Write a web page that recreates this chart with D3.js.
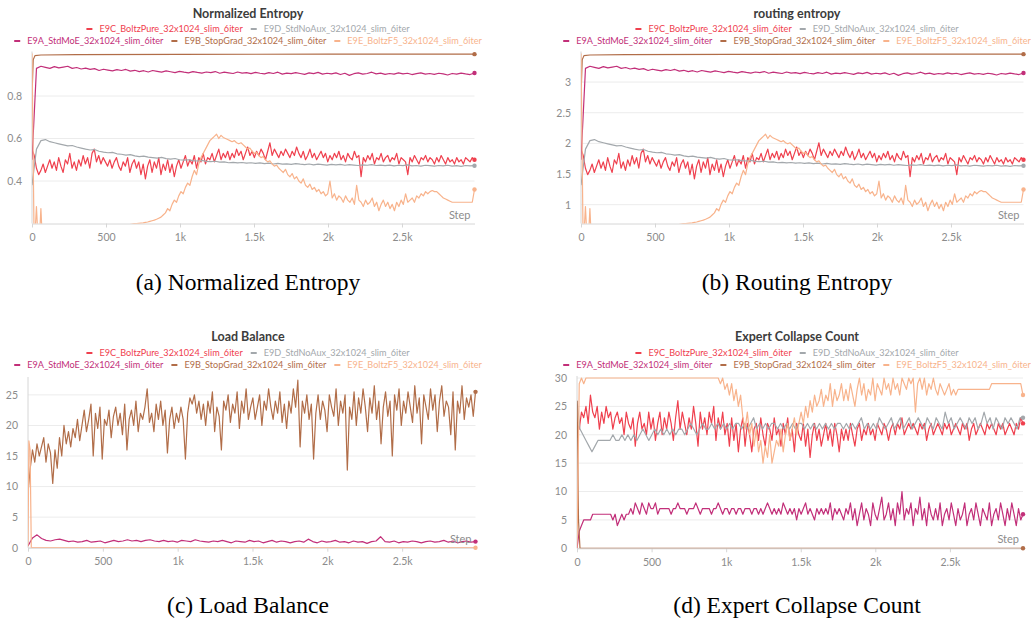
<!DOCTYPE html>
<html>
<head>
<meta charset="utf-8">
<script src="https://cdn.jsdelivr.net/npm/d3@7"></script>
<style>
  body { margin: 0; background: #fff; }
  svg { display: block; font-family: Lato, "Noto Sans", sans-serif; }
  .grid line { stroke: #ececec; stroke-width: 1; }
  .axis path, .axis line { stroke: #d6d6d6; }
  .axis text { fill: #8c8c8c; font-size: 10.5px; font-family: Lato, sans-serif; }
  .step-label { fill: #8c8c8c; font-size: 11px; }
  .panel-title { fill: #3c3c3c; font-size: 12.5px; font-weight: 700; }
  .legend text { font-size: 9.15px; }
  .caption { font-family: "Liberation Serif", "DejaVu Serif", serif; font-size: 23.5px; fill: #000; }
  .run { fill: none; stroke-width: 1.2; stroke-linejoin: round; }
</style>
</head>
<body>
<svg id="chart" width="1031" height="622"></svg>
<script>
// ---- runs ----
const runNames = [
  'E9C_BoltzPure_32x1024_slim_6iter',
  'E9D_StdNoAux_32x1024_slim_6iter',
  'E9A_StdMoE_32x1024_slim_6iter',
  'E9B_StopGrad_32x1024_slim_6iter',
  'E9E_BoltzF5_32x1024_slim_6iter'
];
const runColors = ['#ef404e', '#a3a8ac', '#c22f79', '#b16d48', '#f8b38c'];
const legendRows = [[0, 1], [2, 3, 4]];

const LAST_STEP = 2990;
const xTickValues = [0, 500, 1000, 1500, 2000, 2500];

// ---- normalized entropy (routing entropy is the same runs, in nats: x ln 32) ----
const entBoltzPure = [
  0.55, 0.52, 0.46, 0.43, 0.45, 0.48, 0.44, 0.47, 0.50, 0.46,
  0.49, 0.45, 0.51, 0.47, 0.44, 0.50, 0.48, 0.53, 0.46, 0.49,
  0.45, 0.50, 0.47, 0.52, 0.48, 0.51, 0.46, 0.53, 0.55, 0.49,
  0.52, 0.48, 0.51, 0.49, 0.47, 0.50, 0.46, 0.49, 0.51, 0.47,
  0.45, 0.49, 0.47, 0.51, 0.44, 0.48, 0.50, 0.46, 0.49, 0.43,
  0.48, 0.41, 0.47, 0.50, 0.44, 0.49, 0.46, 0.51, 0.43, 0.48,
  0.45, 0.50, 0.44, 0.48, 0.42, 0.47, 0.50, 0.46, 0.49, 0.52,
  0.47, 0.50, 0.48, 0.52, 0.46, 0.51, 0.49, 0.53, 0.48, 0.51,
  0.50, 0.53, 0.49, 0.52, 0.55, 0.50, 0.53, 0.51, 0.54, 0.50,
  0.53, 0.51, 0.55, 0.52, 0.54, 0.50, 0.53, 0.56, 0.52, 0.54,
  0.51, 0.54, 0.52, 0.55, 0.53, 0.50, 0.54, 0.58, 0.52, 0.55,
  0.53, 0.51, 0.54, 0.52, 0.55, 0.53, 0.51, 0.54, 0.52, 0.56,
  0.53, 0.51, 0.54, 0.50, 0.52, 0.55, 0.51, 0.53, 0.50, 0.52,
  0.54, 0.51, 0.53, 0.49, 0.52, 0.50, 0.53, 0.51, 0.54, 0.50,
  0.52, 0.49, 0.53, 0.51, 0.50, 0.54, 0.51, 0.52, 0.42, 0.51,
  0.49, 0.52, 0.50, 0.53, 0.48, 0.51, 0.50, 0.53, 0.49, 0.51,
  0.52, 0.49, 0.51, 0.50, 0.53, 0.48, 0.51, 0.50, 0.49, 0.43,
  0.51, 0.49, 0.52, 0.50, 0.48, 0.51, 0.50, 0.52, 0.49, 0.51,
  0.50, 0.48, 0.51, 0.49, 0.52, 0.50, 0.48, 0.51, 0.49, 0.50,
  0.48, 0.51, 0.49, 0.50, 0.48, 0.51, 0.50, 0.49, 0.51, 0.50
];
const entStdNoAux = [
  0.38, 0.55, 0.59, 0.595, 0.585, 0.58, 0.575, 0.57, 0.565, 0.567,
  0.56, 0.555, 0.55, 0.546, 0.548, 0.54, 0.536, 0.533, 0.535, 0.528,
  0.526, 0.522, 0.524, 0.518, 0.515, 0.517, 0.512, 0.51, 0.508, 0.511,
  0.505, 0.503, 0.506, 0.50, 0.498, 0.50, 0.496, 0.494, 0.497, 0.492,
  0.491, 0.493, 0.489, 0.49, 0.486, 0.488, 0.485, 0.487, 0.484, 0.486,
  0.483, 0.485, 0.482, 0.484, 0.48, 0.483, 0.479, 0.481, 0.478, 0.482,
  0.479, 0.477, 0.48, 0.476, 0.479, 0.477, 0.475, 0.478, 0.476, 0.478,
  0.474, 0.477, 0.475, 0.473, 0.476, 0.474, 0.477, 0.473, 0.475, 0.472,
  0.475, 0.471, 0.474, 0.472, 0.476, 0.471, 0.473, 0.47, 0.474, 0.472,
  0.47, 0.473, 0.471, 0.474, 0.47, 0.472, 0.469, 0.473, 0.471, 0.472
];
const entStdMoE = [
  0.50, 0.93, 0.94, 0.935, 0.93, 0.938, 0.932, 0.936, 0.94, 0.93,
  0.934, 0.927, 0.931, 0.925, 0.929, 0.92, 0.926, 0.922, 0.918, 0.924,
  0.92, 0.925, 0.917, 0.921, 0.915, 0.919, 0.913, 0.92, 0.916, 0.912,
  0.918, 0.914, 0.91, 0.916, 0.912, 0.909, 0.915, 0.911, 0.908, 0.913,
  0.91, 0.915, 0.907, 0.912, 0.909, 0.906, 0.913, 0.908, 0.91, 0.905,
  0.911, 0.907, 0.904, 0.91, 0.906, 0.912, 0.903, 0.908, 0.905, 0.91,
  0.906, 0.902, 0.909, 0.905, 0.911, 0.903, 0.907, 0.904, 0.909, 0.901,
  0.907, 0.897, 0.905, 0.909, 0.903, 0.906, 0.912, 0.904, 0.908, 0.902,
  0.906, 0.903, 0.909, 0.904, 0.907, 0.901, 0.905, 0.909, 0.903, 0.906,
  0.902, 0.907, 0.904, 0.899, 0.906, 0.903, 0.908, 0.904, 0.901, 0.908
];
const entStopGradSteps = [0, 8, 20, 60, 300, 1000, 2000, 2990];
const entStopGrad = [0.80, 0.97, 0.99, 0.993, 0.995, 0.996, 0.997, 0.997];
const entBoltzF5 = [
  1.0, 0.08, 0.28, 0.06, 0.27, 0.05, 0.05, 0.05, 0.05, 0.05,
  0.06, 0.06, 0.07, 0.07, 0.08, 0.08, 0.09, 0.09, 0.10, 0.10,
  0.11, 0.11, 0.12, 0.12, 0.13, 0.13, 0.14, 0.14, 0.15, 0.15,
  0.155, 0.16, 0.16, 0.165, 0.165, 0.17, 0.17, 0.17, 0.175, 0.175,
  0.18, 0.185, 0.19, 0.192, 0.195, 0.197, 0.199, 0.20, 0.201, 0.202,
  0.203, 0.205, 0.207, 0.21, 0.213, 0.216, 0.22, 0.225, 0.23, 0.24,
  0.25, 0.27, 0.26, 0.29, 0.31, 0.30, 0.33, 0.35, 0.34, 0.37,
  0.39, 0.38, 0.42, 0.45, 0.43, 0.48, 0.51, 0.53, 0.55, 0.57,
  0.59, 0.60, 0.61, 0.62, 0.60, 0.615, 0.605, 0.60, 0.595, 0.59,
  0.585, 0.59, 0.58, 0.575, 0.58, 0.57, 0.56, 0.55, 0.555, 0.54,
  0.53, 0.535, 0.52, 0.51, 0.515, 0.50, 0.49, 0.495, 0.48, 0.47,
  0.475, 0.46, 0.45, 0.44, 0.455, 0.43, 0.42, 0.435, 0.41, 0.42,
  0.40, 0.39, 0.41, 0.38, 0.37, 0.385, 0.36, 0.37, 0.35, 0.36,
  0.34, 0.35, 0.33, 0.34, 0.40, 0.32, 0.34, 0.31, 0.33, 0.32,
  0.30, 0.33, 0.31, 0.30, 0.32, 0.29, 0.38, 0.31, 0.30, 0.28,
  0.31, 0.29, 0.30, 0.32, 0.28, 0.30, 0.26, 0.29, 0.31, 0.28,
  0.30, 0.27, 0.29, 0.26, 0.30, 0.28, 0.31, 0.29, 0.34, 0.30,
  0.31, 0.32, 0.30, 0.33, 0.32, 0.34, 0.33, 0.35, 0.34, 0.35,
  0.355, 0.35, 0.35, 0.34, 0.33, 0.32, 0.315, 0.31, 0.305, 0.30,
  0.30, 0.30, 0.30, 0.30, 0.30, 0.30, 0.30, 0.30, 0.30, 0.36
];

// ---- load balance ----
const lbStopGrad = [
  9, 13, 16, 14, 17, 15, 16.5, 18, 14, 17,
  15.5, 10.5, 16, 13, 18, 15, 20, 17, 19, 16.5,
  19.5, 18, 21, 17.5, 20, 22.5, 19, 21, 23.5, 15,
  22, 19.5, 23, 14.5, 21, 20, 22.5, 18, 21.5, 23,
  20, 22, 18.5, 23.5, 16, 21, 22.5, 20, 24, 19,
  22, 21, 23, 26, 20.5, 22, 19, 23.5, 21, 24,
  20, 22.5, 15.5, 21, 23, 19.5, 22, 20.5, 23, 21,
  14.5, 22, 24.5, 23.5, 25, 22, 24, 21, 23.5, 20,
  24, 22, 25.5, 19, 23, 21.5, 16, 24, 22.5, 25,
  20.5, 23.5, 22, 25.5, 19.5, 24, 22, 26, 21, 23,
  24.5, 21, 23, 25, 20, 24, 22.5, 26, 23, 21,
  24, 22, 25.5, 20.5, 23.5, 19.5, 24, 22, 26, 23,
  27.4, 16.5, 24, 22, 25, 21, 23.5, 14.5, 22, 25,
  21, 24, 22.5, 19, 25, 23, 21.5, 26, 20, 24,
  22, 25, 12.7, 23, 21, 25.5, 20, 24.5, 22, 26,
  23, 19, 24.5, 22, 26.5, 21, 24, 17, 23, 25.5,
  21.5, 24, 15, 25, 22.5, 26, 20, 24, 22, 25.5,
  23, 20.5, 26.5, 22, 24.5, 17, 25, 23, 21, 26,
  22.5, 25, 19, 24, 26.5, 21.5, 24, 23, 18.5, 25.5,
  16, 24, 22, 26.5, 21, 24.5, 23, 25, 21.5, 25.5
];
const lbStdMoE = [
  0.3, 1.6, 2.1, 1.5, 1.2, 1.1, 1.3, 1.4, 1.2, 1.0,
  1.1, 0.9, 1.0, 1.2, 0.9, 1.0, 1.1, 0.8, 1.0, 1.2,
  1.0, 1.1, 1.3, 1.1, 1.2, 1.0, 1.2, 1.3, 1.1, 1.0,
  1.2, 1.0, 1.1, 0.9, 1.2, 1.1, 1.0, 1.3, 1.1, 1.0,
  0.9, 1.1, 1.0, 1.2, 1.0, 0.8, 1.1, 1.0, 0.9, 1.2,
  1.0, 1.1, 0.8, 1.0, 1.2, 0.9, 1.1, 1.0, 0.8, 1.0,
  1.1, 0.9, 1.4, 1.0, 0.8, 1.1, 0.9, 1.0, 1.2, 0.9,
  1.0, 0.8, 1.1, 0.9, 1.0, 0.7, 1.0, 1.1, 1.8, 1.0,
  0.9, 1.1, 0.8, 1.0, 0.9, 1.1, 1.0, 0.8, 1.0, 1.1,
  0.9, 1.0, 1.2, 0.9, 1.1, 0.8, 1.0, 1.1, 0.9, 1.0
];
const lbBoltzF5Steps = [0, 6, 14, 22, 2990];
const lbBoltzF5 = [0.2, 17.5, 16, 0, 0];

// ---- expert collapse count ----
const ccBoltzPure = [
  22, 21, 24, 23, 25, 22, 27, 24, 23, 25,
  21, 24, 22, 25, 23, 24, 21, 23, 24, 22,
  23, 20, 24, 22, 21, 23, 18, 22, 24, 21,
  22, 20, 24, 21, 23, 19, 22, 24, 20, 23,
  21, 24, 22, 19, 23, 26, 21, 24, 22, 20,
  23, 21, 25, 22, 18, 24, 21, 23, 20, 24,
  22, 25, 19, 23, 21, 24, 20, 22, 18, 23,
  19, 22, 17, 21, 23, 18, 22, 20, 17, 21,
  22, 19, 23, 20, 18, 22, 21, 19, 23, 20,
  21, 18, 22, 20, 23, 19, 21, 17, 22, 20,
  19, 22, 18, 21, 16, 20, 22, 19, 21, 18,
  20, 22, 19, 21, 18, 22, 20, 17, 21, 19,
  21, 19, 22, 20, 18, 21, 22, 19, 21, 20,
  22, 20, 21, 19, 22, 21, 20, 22, 21, 19,
  21, 22, 20, 22, 21, 23, 20, 21, 22, 21,
  22, 21, 20, 22, 21, 22, 19, 21, 22, 20,
  21, 22, 21, 20, 22, 21, 22, 20, 21, 22,
  21, 20, 22, 21, 22, 19, 21, 22, 20, 21,
  22, 21, 20, 22, 21, 22, 21, 20, 22, 21,
  22, 20, 21, 22, 21, 20, 22, 21, 23, 22
];
const ccStdNoAux = [
  26, 21, 20, 19, 18, 17, 18, 19, 19, 19,
  19, 19, 20, 19, 19, 20, 19, 20, 19, 20,
  19, 20, 21, 20, 19, 20, 21, 20, 21, 20,
  21, 20, 21, 20, 21, 21, 20, 21, 22, 21,
  20, 21, 22, 21, 21, 22, 21, 22, 21, 22,
  21, 22, 21, 22, 22, 21, 22, 21, 22, 23,
  21, 22, 21, 22, 21, 22, 22, 21, 22, 21,
  22, 21, 22, 21, 22, 22, 21, 22, 21, 22,
  21, 22, 21, 22, 21, 22, 21, 22, 22, 21,
  22, 21, 22, 21, 22, 23, 21, 22, 21, 22,
  21, 23, 22, 21, 22, 23, 21, 22, 23, 21,
  22, 23, 21, 22, 23, 22, 21, 23, 22, 21,
  23, 22, 21, 24, 22, 23, 21, 22, 23, 22,
  21, 23, 22, 23, 21, 22, 24, 22, 23, 21,
  23, 22, 21, 23, 22, 23, 22, 21, 23, 23
];
const ccStdMoE = [
  0, 3, 4, 5, 5, 5, 5, 6, 6, 6,
  6, 6, 6, 6, 6, 6, 5, 6, 4, 5,
  6, 5, 6, 6, 7, 6, 8, 7, 6, 8,
  7, 6, 8, 7, 7, 8, 6, 7, 7, 7,
  7, 7, 6, 7, 7, 8, 7, 7, 7, 6,
  7, 7, 7, 8, 7, 6, 7, 7, 7, 7,
  6, 7, 7, 8, 7, 6, 7, 7, 6, 7,
  7, 6, 7, 7, 6, 7, 7, 7, 6, 7,
  7, 6, 7, 6, 7, 8, 7, 6, 7, 6,
  7, 6, 8, 7, 6, 7, 6, 7, 5, 7,
  6, 7, 8, 6, 7, 6, 5, 7, 6, 7,
  6, 7, 6, 8, 5, 7, 6, 7, 6, 5,
  7, 6, 8, 5, 7, 4, 6, 8, 5, 7,
  6, 4, 8, 6, 5, 7, 9, 5, 6, 8,
  5, 7, 4, 8, 6, 10, 5, 7, 6, 8,
  4, 7, 6, 9, 5, 7, 4, 8, 6, 5,
  7, 5, 8, 4, 6, 7, 5, 8, 6, 4,
  7, 5, 6, 8, 4, 6, 7, 5, 8, 6,
  4, 7, 6, 5, 8, 4, 6, 7, 5, 8,
  6, 4, 7, 5, 8, 6, 4, 7, 5, 6
];
const ccStopGradSteps = [0, 4, 10, 20, 2990];
const ccStopGrad = [26, 20, 5, 0, 0];
const ccBoltzF5 = [
  0, 29, 30, 29, 30, 30, 30, 30, 30, 30,
  30, 30, 30, 30, 30, 30, 30, 30, 30, 30,
  30, 30, 30, 30, 30, 30, 30, 30, 30, 30,
  30, 30, 30, 30, 30, 30, 30, 30, 30, 30,
  30, 30, 30, 30, 30, 30, 30, 30, 30, 30,
  30, 30, 30, 30, 30, 30, 30, 30, 30, 30,
  30, 30, 30, 30, 29, 30, 28, 29, 27, 29,
  26, 28, 25, 27, 23, 21, 24, 20, 22, 18,
  21, 17, 19, 15, 18, 16, 20, 15, 17, 19,
  18, 21, 17, 20, 22, 19, 21, 23, 20, 22,
  24, 22, 25, 23, 26, 24, 27, 25, 26, 28,
  25, 27, 26, 29, 25, 28, 26, 27, 29, 26,
  28, 26, 29, 27, 25, 28, 30, 27, 29, 26,
  28, 27, 30, 26, 29, 28, 27, 30, 28, 29,
  27, 30, 28, 29, 27, 30, 29, 28, 30, 29,
  30, 24, 29, 30, 28, 30, 27, 29, 28, 30,
  28, 27, 29, 28, 27, 28, 29, 27, 28, 27,
  28, 28, 28, 28, 28, 28, 28, 28, 28, 28,
  28, 28, 28, 28, 28, 29, 29, 29, 29, 29,
  29, 29, 29, 29, 29, 29, 29, 29, 29, 27
];

// ---- helpers ----
const LN_EXPERTS = Math.log(32);
const evenSteps = n => d3.range(n).map(i => i * LAST_STEP / (n - 1));
const zip = (steps, values) => values.map((v, i) => [steps[i], v]);
const fmtStep = d => d === 0 ? '0' : (d >= 1000 ? (d / 1000) + 'k' : String(d));

const entRuns = [
  { run: 0, pts: zip(evenSteps(entBoltzPure.length), entBoltzPure) },
  { run: 1, pts: zip(evenSteps(entStdNoAux.length), entStdNoAux) },
  { run: 2, pts: zip(evenSteps(entStdMoE.length), entStdMoE) },
  { run: 3, pts: zip(entStopGradSteps, entStopGrad) },
  { run: 4, pts: zip(evenSteps(entBoltzF5.length), entBoltzF5) }
];
const routingRuns = entRuns.map(s => ({ run: s.run, pts: s.pts.map(p => [p[0], p[1] * LN_EXPERTS]) }));

const panels = [
  {
    title: 'Normalized Entropy', caption: '(a) Normalized Entropy', cx: 248,
    left: 32, right: 474.5, top: 53.5, bottom: 223.5, titleY: 18, legendY: 29, captionY: 290,
    yDomain: [0.2, 1.0], yTicks: [0.4, 0.6, 0.8], yFormat: d3.format('.1f'), runs: entRuns
  },
  {
    title: 'routing entropy', caption: '(b) Routing Entropy', cx: 797,
    left: 581, right: 1023.5, top: 53.5, bottom: 223.5, titleY: 18, legendY: 29, captionY: 290,
    yDomain: [0.2 * LN_EXPERTS, LN_EXPERTS], yTicks: [1, 1.5, 2, 2.5, 3], yFormat: d => String(d), runs: routingRuns
  },
  {
    title: 'Load Balance', caption: '(c) Load Balance', cx: 248,
    left: 28, right: 475.5, top: 379, bottom: 547.7, titleY: 341, legendY: 353, captionY: 613,
    yDomain: [0, 27.6], yTicks: [0, 5, 10, 15, 20, 25], yFormat: d => String(d),
    runs: [
      { run: 2, pts: zip(evenSteps(lbStdMoE.length), lbStdMoE) },
      { run: 3, pts: zip(evenSteps(lbStopGrad.length), lbStopGrad) },
      { run: 4, pts: zip(lbBoltzF5Steps, lbBoltzF5) }
    ]
  },
  {
    title: 'Expert Collapse Count', caption: '(d) Expert Collapse Count', cx: 797,
    left: 577, right: 1023, top: 378, bottom: 548.3, titleY: 341, legendY: 353, captionY: 613,
    yDomain: [0, 30], yTicks: [0, 5, 10, 15, 20, 25, 30], yFormat: d => String(d),
    runs: [
      { run: 0, pts: zip(evenSteps(ccBoltzPure.length), ccBoltzPure) },
      { run: 1, pts: zip(evenSteps(ccStdNoAux.length), ccStdNoAux) },
      { run: 2, pts: zip(evenSteps(ccStdMoE.length), ccStdMoE) },
      { run: 3, pts: zip(ccStopGradSteps, ccStopGrad) },
      { run: 4, pts: zip(evenSteps(ccBoltzF5.length), ccBoltzF5) }
    ]
  }
];

const svg = d3.select('#chart');

function drawLegend(g, cx, y0) {
  legendRows.forEach((row, r) => {
    const $row = g.append('g');
    let x = 0;
    row.forEach(i => {
      $row.append('line')
        .attr('x1', x).attr('x2', x + 6)
        .attr('y1', 0).attr('y2', 0)
        .attr('stroke', runColors[i]).attr('stroke-width', 2);
      const t = $row.append('text')
        .attr('x', x + 13).attr('y', 0).attr('dy', '0.34em')
        .attr('fill', runColors[i])
        .text(runNames[i]);
      x += 13 + t.node().getComputedTextLength() + 8;
    });
    x -= 8;
    $row.attr('transform', `translate(${cx - x / 2},${y0 + r * 12})`);
  });
}

function drawPanel(p, k) {
  const xScale = d3.scaleLinear().domain([0, LAST_STEP]).range([p.left, p.right]);
  const yScale = d3.scaleLinear().domain(p.yDomain).range([p.bottom, p.top]);

  const $g = svg.append('g');

  $g.append('text')
    .attr('class', 'panel-title')
    .attr('x', p.cx).attr('y', p.titleY)
    .attr('text-anchor', 'middle')
    .text(p.title);

  drawLegend($g.append('g').attr('class', 'legend'), p.cx, p.legendY);

  $g.append('g').attr('class', 'grid')
    .selectAll('line')
    .data(p.yTicks)
    .join('line')
    .attr('x1', p.left).attr('x2', p.right)
    .attr('y1', d => yScale(d)).attr('y2', d => yScale(d));

  const yAxis = d3.axisLeft(yScale)
    .tickValues(p.yTicks)
    .tickFormat(p.yFormat)
    .tickSize(0)
    .tickPadding(10);
  const $y = $g.append('g').attr('class', 'axis')
    .attr('transform', `translate(${p.left},0)`)
    .call(yAxis);
  $y.select('.domain').attr('d', `M0,${p.top - 2}V${p.bottom}`);

  const xAxis = d3.axisBottom(xScale)
    .tickValues(xTickValues)
    .tickFormat(fmtStep)
    .tickSizeInner(4)
    .tickSizeOuter(0)
    .tickPadding(6);
  $g.append('g').attr('class', 'axis')
    .attr('transform', `translate(0,${p.bottom})`)
    .call(xAxis);

  const clipId = 'clip' + k;
  svg.append('clipPath').attr('id', clipId)
    .append('rect')
    .attr('x', p.left).attr('y', p.top - 4)
    .attr('width', p.right - p.left + 4)
    .attr('height', p.bottom - p.top + 4);

  const line = d3.line()
    .x(d => xScale(d[0]))
    .y(d => yScale(d[1]));

  const $lines = $g.append('g').attr('clip-path', `url(#${clipId})`);
  $lines.selectAll('path')
    .data(p.runs)
    .join('path')
    .attr('class', 'run')
    .attr('stroke', d => runColors[d.run])
    .attr('d', d => line(d.pts));

  $g.append('g')
    .selectAll('circle')
    .data(p.runs)
    .join('circle')
    .attr('r', 2.2)
    .attr('fill', d => runColors[d.run])
    .attr('cx', d => xScale(d.pts[d.pts.length - 1][0]))
    .attr('cy', d => Math.max(p.top, Math.min(p.bottom, yScale(d.pts[d.pts.length - 1][1]))));

  $g.append('text')
    .attr('class', 'step-label')
    .attr('x', p.right - 4).attr('y', p.bottom - 5)
    .attr('text-anchor', 'end')
    .text('Step');

  $g.append('text')
    .attr('class', 'caption')
    .attr('x', p.cx).attr('y', p.captionY)
    .attr('text-anchor', 'middle')
    .text(p.caption);
}

panels.forEach(drawPanel);
</script>
</body>
</html>
